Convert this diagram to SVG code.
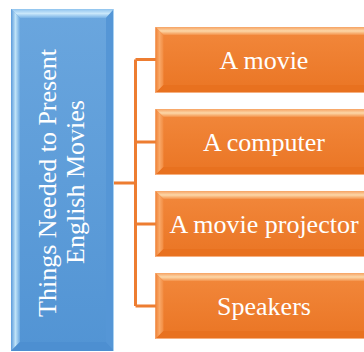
<svg xmlns="http://www.w3.org/2000/svg" width="364" height="352" viewBox="0 0 364 352">
<defs>
<linearGradient id="bFace" x1="0" y1="0" x2="0" y2="1"><stop offset="0" stop-color="#6AA6DE"/><stop offset="1" stop-color="#5294D4"/></linearGradient>
<linearGradient id="bLeft" x1="0" y1="0" x2="1" y2="0"><stop offset="0" stop-color="#5A9ADA"/><stop offset="0.5" stop-color="#BFE3F8"/><stop offset="1" stop-color="#6AA7E0"/></linearGradient>
<linearGradient id="bTop" x1="0" y1="0" x2="0" y2="1"><stop offset="0" stop-color="#8FC3EE"/><stop offset="0.5" stop-color="#C9E7FA"/><stop offset="1" stop-color="#78B2E6"/></linearGradient>
<linearGradient id="oFace" x1="0" y1="0" x2="0" y2="1"><stop offset="0" stop-color="#F2883C"/><stop offset="1" stop-color="#EA7524"/></linearGradient>
<linearGradient id="oLeft" x1="0" y1="0" x2="1" y2="0"><stop offset="0" stop-color="#F08236"/><stop offset="0.5" stop-color="#F9A868"/><stop offset="1" stop-color="#F28B40"/></linearGradient>
<linearGradient id="oTop" x1="0" y1="0" x2="0" y2="1"><stop offset="0" stop-color="#F6A262"/><stop offset="0.5" stop-color="#FCD7A8"/><stop offset="1" stop-color="#F4924A"/></linearGradient>
<g id="obox">
<rect x="0" y="0" width="217" height="66" fill="url(#oFace)"/>
<polygon points="0,0 217,0 209,8 8,8" fill="url(#oTop)"/>
<polygon points="0,0 8,8 8,58 0,66" fill="url(#oLeft)"/>
<polygon points="0,66 8,58 209,58 217,66" fill="#E8711F"/>
<polygon points="217,0 209,8 209,58 217,66" fill="#EA7624"/>
<rect x="0" y="65" width="217" height="1" fill="#F6B080"/>
</g>
</defs>
<style>
.lbl{font-family:"Liberation Serif","Times New Roman",serif;font-size:26px;fill:#FFFFFF;text-anchor:middle}
.conn{stroke:#ED7D31;stroke-width:3;fill:none}
</style>
<g id="connectors">
<path class="conn" d="M114,183 H135.5 M135.5,59.5 V306 M135.5,59.5 H156 M135.5,142 H156 M135.5,224 H156 M135.5,306 H156"/>
</g>
<g id="root">
<rect x="11" y="9" width="103" height="342" fill="url(#bFace)"/>
<polygon points="11,9 114,9 106,18 20,18" fill="url(#bTop)"/>
<polygon points="11,9 20,18 20,342 11,351" fill="url(#bLeft)"/>
<polygon points="11,351 20,342 106,342 114,351" fill="#4D8FD1"/>
<polygon points="114,9 106,18 106,342 114,351" fill="#5596D6"/>
<rect x="113" y="9" width="1" height="342" fill="#A9D2F2"/>
<text class="lbl" transform="translate(55.5,183) rotate(-90)">Things Needed to Present</text>
<text class="lbl" transform="translate(83.5,182) rotate(-90)">English Movies</text>
</g>
<g id="n1"><use href="#obox" x="155.5" y="27"/><text class="lbl" x="264" y="69">A movie</text></g>
<g id="n2"><use href="#obox" x="155.5" y="109"/><text class="lbl" x="264" y="151">A computer</text></g>
<g id="n3"><use href="#obox" x="155.5" y="191"/><text class="lbl" x="264" y="233">A movie projector</text></g>
<g id="n4"><use href="#obox" x="155.5" y="273"/><text class="lbl" x="264" y="315">Speakers</text></g>
</svg>
